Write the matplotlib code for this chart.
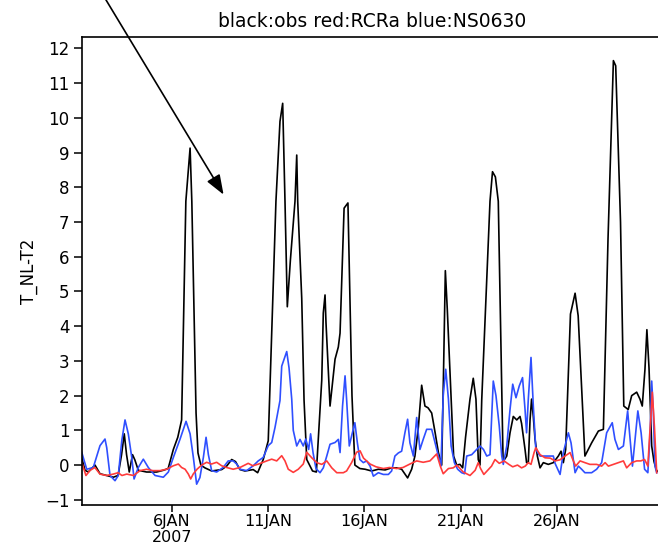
import matplotlib
matplotlib.use('Agg')
import matplotlib.pyplot as plt

# day of January 2007 (fractional) and value, vertices
obs_day = [1.22, 1.48, 1.65, 2.0, 2.26, 2.6, 2.95, 3.2, 3.38, 3.52, 3.64, 3.78, 3.95, 4.07,
           4.25, 4.68, 5.2, 5.55, 5.8, 6.07, 6.3, 6.5, 6.72, 6.94, 7.03, 7.25, 7.35, 7.5,
           7.71, 8.06, 8.58, 8.84, 9.1, 9.3, 9.53, 9.79, 10.22, 10.45, 10.74, 11.0, 11.12,
           11.4, 11.61, 11.75, 11.87, 11.99, 12.15, 12.39, 12.48, 12.53, 12.74, 12.86, 13.0,
           13.3, 13.5, 13.78, 13.86, 13.95, 14.0, 14.21, 14.47, 14.64, 14.73, 14.94, 15.14,
           15.35, 15.5, 15.76, 16.03, 16.37, 16.72, 17.07, 17.41, 17.67, 17.93, 18.24, 18.45,
           18.62, 18.8, 18.97, 19.14, 19.3, 19.49, 19.67, 19.84, 20.01, 20.1, 20.2, 20.3,
           20.63, 20.79, 20.96, 21.1, 21.25, 21.48, 21.65, 21.79, 21.91, 22.0, 22.09, 22.52,
           22.65, 22.8, 22.95, 23.2, 23.39, 23.56, 23.73, 23.91, 24.08, 24.16, 24.34, 24.42,
           24.51, 24.6, 24.68, 24.77, 24.86, 24.98, 25.12, 25.29, 25.55, 25.81, 26.07, 26.21,
           26.33, 26.45, 26.7, 26.94, 27.1, 27.45, 27.8, 28.15, 28.41, 28.65, 28.93, 29.05,
           29.3, 29.47, 29.7, 29.88, 30.14, 30.31, 30.43, 30.57, 30.67, 30.78, 30.92, 31.04,
           31.18, 31.4]
obs_val = [0.4, -0.15, -0.2, 0.0, -0.25, -0.3, -0.35, -0.3, 0.3, 0.9, 0.3, -0.2, 0.3, 0.15,
           -0.15, -0.2, -0.2, -0.15, -0.1, 0.45, 0.8, 1.3, 7.6, 9.13, 7.6, 1.5, 0.35, 0.0,
           -0.08, -0.17, -0.13, -0.03, 0.16, 0.1, -0.13, -0.17, -0.13, -0.22, 0.16, 0.7, 2.8,
           7.6, 9.9, 10.42, 7.6, 4.56, 5.9, 7.6, 8.93, 7.6, 4.8, 1.87, 0.16,
           -0.17, -0.2, 2.45, 4.38, 4.9, 4.1, 1.7, 3.05, 3.4, 3.8, 7.4, 7.55,
           2.0, 0.0, -0.1, -0.12, -0.17, -0.12, -0.14, -0.08, -0.08, -0.12, -0.37, -0.12,
           0.26, 1.1, 2.3, 1.7, 1.65, 1.5, 0.93, 0.36, 0.0, 2.5, 5.6, 4.5,
           0.26, 0.0, 0.02, -0.08, 0.8, 1.9, 2.5, 1.9, 0.16, 0.0, 1.87, 7.6,
           8.45, 8.3, 7.6, 0.1, 0.26, 0.93, 1.4, 1.3, 1.4, 1.2, 0.45, 0.07,
           0.07, 1.3, 1.9, 1.4, 0.74, 0.26, -0.08, 0.07, 0.02, 0.07, 0.26, 0.4,
           0.07, 0.45, 4.35, 4.95, 4.3, 0.26, 0.64, 0.98, 1.03, 6.5, 11.65, 11.5,
           7.0, 1.7, 1.6, 2.0, 2.1, 1.9, 1.7, 2.76, 3.9, 2.8, 0.55, 0.1,
           -0.17, -0.2]

rcra_day = [1.31, 1.53, 1.75, 1.99, 2.26, 2.6, 2.95, 3.2, 3.4, 3.65, 4.0, 4.34, 4.68, 5.0,
            5.38, 5.72, 6.07, 6.33, 6.5, 6.68, 6.85, 6.97, 7.1, 7.3, 7.54, 7.8, 8.05, 8.32,
            8.58, 8.84, 9.18, 9.53, 9.96, 10.2, 10.5, 10.92, 11.18, 11.44, 11.7, 11.87, 12.04,
            12.3, 12.56, 12.82, 13.0, 13.26, 13.52, 13.78, 14.04, 14.3, 14.56, 14.9, 15.07,
            15.33, 15.59, 15.77, 15.95, 16.29, 16.6, 16.98, 17.3, 17.67, 18.0, 18.36, 18.71,
            19.05, 19.4, 19.75, 19.95, 20.09, 20.36, 20.61, 20.8, 21.13, 21.48, 21.75, 21.91,
            22.03, 22.2, 22.4, 22.6, 22.78, 23.0, 23.25, 23.5, 23.7, 23.95, 24.16, 24.35,
            24.51, 24.65, 24.81, 24.9, 25.12, 25.38, 25.65, 25.9, 26.15, 26.42, 26.68, 26.82,
            26.97, 27.2, 27.45, 27.71, 28.06, 28.32, 28.5, 28.67, 28.93, 29.19, 29.45, 29.62,
            29.88, 30.14, 30.35, 30.55, 30.72, 30.8, 30.9, 30.95, 31.06, 31.18]
rcra_val = [0.08, -0.3, -0.15, -0.07, -0.26, -0.3, -0.26, -0.22, -0.3, -0.26, -0.3, -0.16, -0.12, -0.16,
            -0.16, -0.12, -0.02, 0.03, -0.07, -0.12, -0.26, -0.4, -0.26, -0.12, 0.0, 0.08, 0.03, 0.08,
            -0.02, -0.07, -0.12, -0.07, 0.05, -0.02, 0.03, 0.12, 0.17, 0.12, 0.27, 0.12, -0.12,
            -0.21, -0.12, 0.03, 0.37, 0.21, 0.07, 0.02, 0.12, -0.08, -0.22, -0.22, -0.17,
            0.07, 0.37, 0.41, 0.2, 0.03, -0.05, -0.1, -0.07, -0.1, -0.07, 0.03, 0.12,
            0.08, 0.12, 0.32, -0.05, -0.25, -0.1, -0.08, 0.0, -0.2, -0.3, -0.15, 0.07,
            -0.1, -0.27, -0.15, -0.03, 0.16, 0.05, 0.12, 0.02, -0.05, 0.0, -0.08, -0.03,
            0.07, 0.02, 0.36, 0.5, 0.3, 0.21, 0.2, 0.12, 0.15, 0.26, 0.36, 0.16,
            -0.03, 0.12, 0.07, 0.02, 0.02, -0.03, 0.07, -0.03, 0.02, 0.07, 0.12, -0.08,
            0.07, 0.12, 0.12, 0.16, -0.03, 0.74, 1.6, 2.1, 1.12, -0.22]

ns_day = [1.31, 1.57, 1.91, 2.26, 2.52, 2.61, 2.78, 3.04, 3.21, 3.39, 3.56, 3.73, 3.91, 4.03,
          4.25, 4.51, 4.77, 5.12, 5.55, 5.81, 6.07, 6.42, 6.73, 6.94, 7.11, 7.28, 7.45, 7.63,
          7.77, 7.89, 8.06, 8.32, 8.66, 8.92, 9.18, 9.36, 9.53, 9.88, 10.22, 10.48, 10.74,
          11.0, 11.18, 11.35, 11.61, 11.7, 11.96, 12.08, 12.22, 12.3, 12.48, 12.65, 12.82,
          12.95, 13.1, 13.2, 13.33, 13.48, 13.69, 13.86, 14.04, 14.21, 14.47, 14.64, 14.73,
          14.86, 14.99, 15.07, 15.21, 15.33, 15.5, 15.63, 15.76, 15.94, 16.11, 16.29, 16.46,
          16.72, 16.98, 17.24, 17.41, 17.58, 17.76, 17.93, 18.1, 18.24, 18.36, 18.54, 18.71,
          18.88, 19.05, 19.23, 19.49, 19.67, 19.84, 19.97, 20.09, 20.22, 20.36, 20.5, 20.67,
          20.84, 21.05, 21.2, 21.31, 21.57, 21.83, 22.0, 22.18, 22.35, 22.52, 22.69, 22.83,
          23.0, 23.13, 23.21, 23.39, 23.56, 23.7, 23.87, 24.04, 24.21, 24.34, 24.42, 24.51,
          24.65, 24.77, 24.9, 25.12, 25.47, 25.81, 25.9, 26.16, 26.33, 26.59, 26.73, 26.94,
          27.11, 27.28, 27.45, 27.8, 28.06, 28.32, 28.58, 28.87, 29.01, 29.19, 29.45, 29.67,
          29.8, 29.92, 30.09, 30.2, 30.37, 30.55, 30.72, 30.84, 30.92, 31.0, 31.09, 31.18]
ns_val = [0.37, -0.12, -0.07, 0.56, 0.75, 0.5, -0.3, -0.45, -0.3, 0.7, 1.3, 0.9, 0.22, -0.4,
          -0.07, 0.17, -0.07, -0.3, -0.35, -0.2, 0.22, 0.75, 1.26, 0.9, 0.22, -0.55, -0.36, 0.22,
          0.8, 0.3, -0.16, -0.2, -0.07, 0.12, 0.12, 0.03, -0.12, -0.16, -0.02, 0.12, 0.22,
          0.56, 0.65, 1.08, 1.86, 2.85, 3.27, 2.8, 1.9, 1.0, 0.55, 0.74, 0.55,
          0.75, 0.45, 0.9, 0.35, -0.1, -0.22, -0.08, 0.26, 0.6, 0.65, 0.74, 0.36,
          1.7, 2.57, 1.9, 0.55, 0.84, 1.22, 0.64, 0.16, 0.07, 0.12, -0.03, -0.32,
          -0.22, -0.27, -0.27, -0.17, 0.26, 0.35, 0.4, 0.93, 1.32, 0.64, 0.26, 1.37,
          0.45, 0.74, 1.03, 1.03, 0.64, 0.26, -0.03, 2.0, 2.76, 1.9, 0.55, 0.07,
          -0.12, -0.22, -0.25, 0.26, 0.3, 0.45, 0.55, 0.45, 0.26, 0.3, 2.42, 2.0,
          1.13, 0.26, 0.02, 0.55, 1.6, 2.33, 1.94, 2.28, 2.52, 1.6, 0.93, 1.9,
          3.1, 1.7, 0.45, 0.26, 0.26, 0.26, 0.05, -0.27, 0.36, 0.93, 0.64, -0.22,
          -0.03, -0.12, -0.22, -0.22, -0.12, 0.07, 0.93, 1.22, 0.74, 0.45, 0.55, 1.56,
          0.74, -0.03, 0.93, 1.56, 0.93, -0.12, -0.22, 0.93, 2.42, 1.6, -0.03, -0.22]

tick_days = [6, 11, 16, 21, 26]
tick_labels = ['6JAN\n2007', '11JAN', '16JAN', '21JAN', '26JAN']
yticks = list(range(-1, 13))

plt.rcParams['font.family'] = ['DejaVu Sans']

fig = plt.figure(figsize=(6.58, 5.5), dpi=100)
ax = fig.add_axes([82 / 658, 45 / 550, 580 / 658, 468 / 550])

ax.plot(obs_day, obs_val, color='black', lw=1.2)
ax.plot(ns_day, ns_val, color='#2f4fff', lw=1.2)
ax.plot(rcra_day, rcra_val, color='#ff3b3b', lw=1.2)

ax.set_xlim(1.325, 31.455)
ax.set_ylim(-1.15, 12.33)
ax.set_xticks(tick_days)
ax.set_xticklabels(tick_labels, fontsize=11.5, linespacing=1.05)
ax.set_yticks(yticks)
ax.tick_params(axis='x', direction='out', length=5, width=1.1, labelsize=11.5, pad=1.5)
ax.tick_params(axis='y', direction='out', length=6, width=1.1, labelsize=12, pad=3)
ax.spines['right'].set_visible(False)
for s in ['left', 'top', 'bottom']:
    ax.spines[s].set_linewidth(1.2)

ax.set_ylabel('T_NL-T2', fontsize=12, labelpad=5)
ax.set_title('black:obs red:RCRa blue:NS0630', fontsize=13.5, pad=7)

# arrow from the top-left corner down into the plot
ax.annotate('', xy=(225, 353), xycoords='figure pixels',
            xytext=(100, 560), textcoords='figure pixels',
            arrowprops=dict(arrowstyle='-|>,head_length=0.8,head_width=0.3',
                            color='black', lw=1.2, mutation_scale=15),
            annotation_clip=False)

fig.savefig('out.png', dpi=100)
